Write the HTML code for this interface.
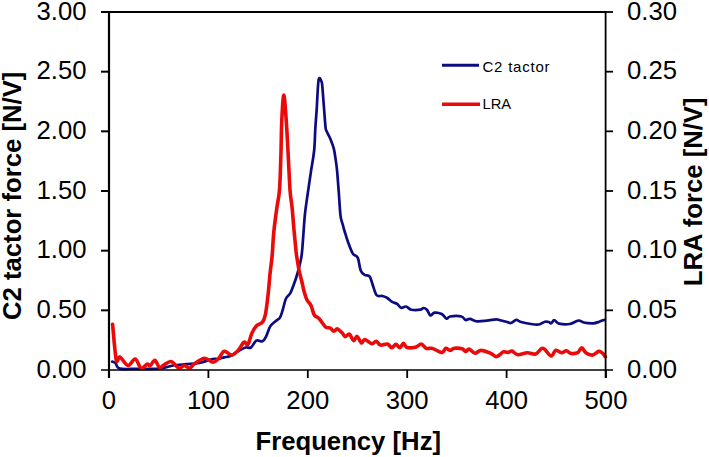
<!DOCTYPE html>
<html><head><meta charset="utf-8"><style>
html,body{margin:0;padding:0;background:#fff;width:709px;height:457px;overflow:hidden}
svg{display:block}
.tl{font-family:"Liberation Sans",sans-serif;font-size:25.7px;fill:#000}
.tt{font-family:"Liberation Sans",sans-serif;font-size:25.7px;font-weight:bold;fill:#000}
.lg{font-family:"Liberation Sans",sans-serif;font-size:15px;fill:#000}
</style></head><body>
<svg width="709" height="457" viewBox="0 0 709 457">
<rect width="709" height="457" fill="#fff"/>
<path d="M112.2,361.6C112.8,361.8 114.2,361.8 115.5,363.0C116.8,364.2 116.1,367.6 119.8,368.6C123.5,369.6 131.1,368.8 137.8,368.8C144.5,368.8 154.1,369.1 160.0,368.5C165.9,367.9 168.7,366.2 173.0,365.5C177.3,364.8 181.6,364.6 186.0,364.2C190.4,363.8 195.0,363.9 199.4,363.0C203.8,362.1 209.4,359.7 212.5,359.0C215.6,358.3 215.9,359.3 217.8,359.0C219.8,358.7 222.1,357.9 224.2,357.4C226.3,356.9 228.0,356.9 230.3,355.9C232.6,354.9 235.4,352.7 238.0,351.3C240.6,349.9 243.4,348.1 245.6,347.5C247.8,346.9 249.2,348.6 251.0,347.5C252.8,346.4 254.4,341.6 256.3,340.6C258.2,339.6 260.9,341.9 262.5,341.3C264.1,340.7 264.6,339.4 265.9,336.9C267.2,334.4 268.6,329.0 270.2,326.4C271.8,323.8 273.9,322.6 275.5,321.2C277.1,319.8 278.7,319.4 279.9,317.7C281.1,315.9 281.5,313.9 282.5,310.7C283.5,307.5 284.7,301.4 286.0,298.5C287.3,295.6 289.0,295.5 290.3,293.2C291.6,290.9 292.6,287.7 293.8,284.5C295.0,281.3 296.1,278.1 297.3,274.0C298.5,269.9 300.0,264.0 300.8,260.0C301.6,256.0 301.5,257.4 302.2,250.0C302.9,242.6 303.9,225.0 304.8,215.6C305.7,206.2 306.7,201.1 307.7,193.8C308.7,186.5 309.8,179.2 310.9,171.9C312.0,164.6 313.5,157.2 314.2,150.0C314.9,142.8 314.9,135.8 315.3,129.0C315.7,122.2 316.1,117.6 316.7,109.4C317.2,101.2 317.8,84.6 318.6,80.0C319.4,75.4 320.9,80.2 321.6,81.8C322.3,83.4 322.2,85.1 322.6,89.7C323.0,94.3 323.6,103.2 324.1,109.4C324.6,115.6 325.1,123.4 325.5,127.0C325.9,130.6 325.7,129.0 326.5,131.0C327.3,133.0 329.2,136.0 330.4,138.9C331.6,141.8 332.9,145.2 333.8,148.7C334.7,152.2 335.1,156.1 335.7,160.0C336.3,163.9 336.7,166.3 337.2,171.9C337.7,177.5 338.3,186.5 338.9,193.8C339.4,201.1 339.9,210.5 340.5,215.6C341.1,220.7 342.0,221.8 342.7,224.4C343.4,227.0 343.6,228.1 344.5,231.0C345.4,233.9 346.6,238.2 348.0,242.0C349.4,245.8 351.2,251.0 352.8,253.6C354.4,256.2 356.4,254.8 357.7,257.6C359.0,260.4 359.5,267.5 360.7,270.4C361.9,273.3 363.1,273.9 364.6,274.9C366.1,275.9 368.3,274.8 369.6,276.3C370.9,277.9 371.4,281.1 372.5,284.2C373.6,287.3 374.9,293.0 376.5,295.0C378.1,297.0 380.6,295.5 382.4,296.0C384.2,296.5 385.7,297.0 387.3,298.0C388.9,299.0 390.6,300.9 392.2,301.9C393.8,302.9 395.6,302.9 397.1,303.9C398.6,304.9 399.6,307.4 401.1,307.8C402.6,308.2 404.3,306.2 406.0,306.5C407.7,306.8 408.9,309.2 411.3,309.7C413.7,310.2 418.5,310.0 420.5,309.7C422.5,309.4 422.2,308.0 423.3,308.0C424.4,308.0 425.7,308.5 426.9,309.7C428.1,310.9 429.1,314.9 430.4,315.4C431.7,315.9 432.7,312.8 434.6,312.6C436.5,312.4 439.7,313.0 441.7,314.0C443.7,315.0 445.2,318.2 446.6,318.6C448.0,319.0 447.6,316.9 450.1,316.5C452.6,316.1 458.8,315.9 461.4,316.5C464.0,317.1 464.2,319.6 465.6,320.0C467.0,320.4 468.0,318.7 469.9,318.9C471.8,319.1 474.1,321.0 476.9,321.3C479.7,321.6 483.6,321.0 486.8,320.7C490.0,320.4 493.8,319.4 496.0,319.3C498.2,319.2 498.3,319.8 500.0,320.2C501.7,320.6 504.4,321.2 506.2,321.7C508.0,322.2 509.2,323.3 510.9,323.0C512.6,322.7 514.8,320.1 516.3,319.9C517.8,319.7 517.8,321.0 520.2,321.7C522.7,322.4 527.9,323.5 531.0,324.0C534.1,324.5 536.5,324.9 538.8,324.5C541.1,324.1 543.3,322.1 545.0,321.7C546.7,321.3 547.9,321.7 548.9,322.0C549.9,322.3 550.3,323.6 551.2,323.3C552.1,323.0 553.0,320.1 554.3,320.2C555.6,320.2 556.4,323.0 559.0,323.6C561.6,324.2 566.6,324.5 569.8,324.0C573.0,323.5 576.1,320.8 578.4,320.5C580.7,320.2 581.3,322.0 583.8,322.5C586.2,323.0 590.5,323.4 593.1,323.3C595.7,323.2 597.5,322.3 599.3,321.7C601.1,321.1 603.2,320.2 604.0,319.9" fill="none" stroke="#0c0c80" stroke-width="2.7" stroke-linejoin="round" stroke-linecap="round"/>
<path d="M112.6,324.2C113.2,330.1 115.0,354.1 116.2,359.6C117.5,365.1 118.1,356.0 120.1,357.0C122.1,358.0 125.5,365.2 128.0,365.5C130.5,365.8 133.0,358.6 135.2,359.0C137.4,359.4 139.1,367.3 141.1,368.2C143.1,369.1 145.5,364.6 147.0,364.2C148.5,363.8 149.0,366.1 150.3,365.5C151.6,364.9 153.4,360.0 154.9,360.3C156.4,360.6 158.0,366.7 159.5,367.5C161.0,368.3 162.1,365.9 164.0,364.9C165.9,363.9 168.7,361.1 171.2,361.6C173.7,362.2 176.8,367.6 179.0,368.2C181.2,368.8 182.6,365.5 184.3,365.5C186.1,365.5 187.8,368.5 189.5,368.2C191.2,367.9 192.3,365.2 194.8,363.6C197.3,362.0 201.5,358.5 204.6,358.3C207.7,358.1 210.8,362.3 213.2,362.3C215.6,362.3 217.0,360.0 218.8,358.2C220.6,356.4 222.0,351.8 224.2,351.3C226.4,350.8 229.5,355.2 231.8,355.1C234.1,355.0 235.9,352.7 238.0,350.5C240.1,348.3 242.4,343.1 244.1,342.1C245.8,341.1 246.6,345.8 247.9,344.4C249.2,343.0 250.3,336.8 251.7,333.7C253.1,330.6 254.5,327.9 256.3,326.0C258.1,324.1 261.0,324.2 262.5,322.2C264.0,320.2 264.6,318.4 265.5,314.0C266.4,309.6 267.2,302.2 268.0,295.5C268.8,288.8 269.3,280.8 270.0,274.0C270.7,267.2 271.6,262.0 272.2,255.0C272.8,248.0 273.0,239.9 273.8,232.0C274.6,224.1 275.9,214.5 276.9,207.5C277.8,200.5 278.8,198.8 279.5,190.0C280.2,181.2 280.5,166.7 280.9,155.0C281.3,143.3 281.3,130.0 281.8,120.0C282.3,110.0 283.1,95.0 283.8,95.0C284.5,95.0 285.5,110.0 286.2,120.0C286.9,130.0 287.6,143.3 288.2,155.0C288.8,166.7 289.4,181.2 290.0,190.0C290.6,198.8 291.4,200.8 292.1,207.5C292.8,214.2 293.3,222.6 294.0,230.0C294.7,237.4 295.6,246.9 296.1,251.9C296.7,256.9 296.8,256.9 297.3,260.0C297.8,263.1 298.4,267.0 299.1,270.5C299.8,274.0 300.8,277.4 301.7,281.0C302.6,284.6 303.4,289.1 304.3,292.3C305.2,295.5 305.9,297.8 307.0,300.0C308.1,302.2 309.8,303.0 311.0,305.5C312.2,308.0 313.0,312.8 314.3,315.0C315.6,317.2 317.1,316.5 319.0,318.5C320.9,320.5 323.5,325.2 325.4,326.8C327.3,328.4 328.9,327.4 330.3,328.2C331.7,328.9 332.7,331.2 333.9,331.3C335.1,331.4 336.0,328.6 337.4,328.9C338.8,329.2 341.0,331.8 342.3,333.1C343.6,334.4 343.9,336.5 345.1,336.7C346.3,336.9 348.0,333.5 349.4,334.1C350.8,334.8 352.3,340.2 353.6,340.6C354.9,341.0 355.8,336.0 357.1,336.4C358.4,336.8 360.1,342.5 361.4,343.0C362.7,343.5 363.1,339.4 364.9,339.5C366.6,339.6 370.0,343.4 371.9,343.7C373.8,344.0 374.8,341.0 376.2,341.2C377.6,341.4 378.5,344.6 380.4,345.1C382.3,345.6 385.5,343.6 387.4,344.0C389.3,344.4 390.3,347.6 391.7,347.7C393.1,347.8 394.5,344.4 395.9,344.4C397.3,344.4 398.7,347.8 400.0,347.6C401.3,347.4 402.3,343.3 403.5,343.3C404.7,343.3 405.0,347.0 407.1,347.6C409.2,348.2 413.9,347.5 416.2,346.9C418.5,346.3 419.5,343.8 421.2,344.0C422.9,344.2 424.4,347.6 426.1,348.3C427.9,349.0 429.9,348.0 431.7,348.3C433.5,348.6 434.9,349.7 436.7,350.4C438.5,351.1 440.8,352.9 442.3,352.5C443.8,352.1 444.5,348.7 445.8,348.3C447.1,347.9 448.7,350.4 450.1,350.4C451.5,350.4 452.3,348.6 454.3,348.3C456.3,348.0 460.2,348.2 462.1,348.7C464.0,349.2 464.4,351.4 465.6,351.5C466.8,351.6 467.6,348.7 469.1,349.0C470.6,349.3 472.8,353.0 474.8,353.2C476.8,353.4 478.5,350.4 481.1,350.4C483.7,350.4 487.8,352.1 490.3,353.2C492.8,354.2 494.3,356.5 495.9,356.7C497.5,356.9 498.8,355.4 500.0,354.6C501.2,353.8 501.8,352.3 503.1,351.9C504.4,351.5 506.5,352.5 508.0,352.4C509.5,352.3 510.4,350.7 512.0,351.1C513.6,351.5 515.1,354.4 517.7,354.7C520.3,355.0 524.4,352.8 527.4,352.7C530.4,352.6 533.0,354.7 535.6,354.0C538.2,353.3 540.3,348.0 542.9,348.3C545.5,348.6 548.9,355.7 551.0,356.0C553.1,356.3 554.0,350.9 555.8,350.3C557.5,349.8 559.7,352.6 561.5,352.7C563.3,352.8 564.8,350.7 566.4,350.8C568.0,350.9 569.3,353.2 571.2,353.5C573.1,353.8 575.9,353.6 577.7,352.7C579.5,351.8 580.4,347.8 581.8,347.8C583.1,347.8 584.0,351.5 585.8,352.7C587.5,353.9 590.1,355.3 592.3,355.1C594.5,354.9 597.0,351.7 598.8,351.4C600.6,351.1 601.8,352.6 602.9,353.5C604.0,354.4 604.9,356.2 605.3,356.8" fill="none" stroke="#ea0a0a" stroke-width="3.6" stroke-linejoin="round" stroke-linecap="round"/>
<line x1="101" y1="12" x2="606" y2="12" stroke="#000" stroke-width="2.2"/>
<line x1="109" y1="11" x2="109" y2="378" stroke="#000" stroke-width="2.2"/>
<line x1="605.6" y1="11" x2="605.6" y2="378" stroke="#000" stroke-width="1.8"/>
<line x1="101" y1="370" x2="613" y2="370" stroke="#000" stroke-width="1.4"/>
<line x1="101" y1="310.33" x2="110" y2="310.33" stroke="#000" stroke-width="2"/><line x1="605" y1="310.33" x2="613" y2="310.33" stroke="#000" stroke-width="1.8"/><line x1="101" y1="250.67" x2="110" y2="250.67" stroke="#000" stroke-width="2"/><line x1="605" y1="250.67" x2="613" y2="250.67" stroke="#000" stroke-width="1.8"/><line x1="101" y1="191.00" x2="110" y2="191.00" stroke="#000" stroke-width="2"/><line x1="605" y1="191.00" x2="613" y2="191.00" stroke="#000" stroke-width="1.8"/><line x1="101" y1="131.33" x2="110" y2="131.33" stroke="#000" stroke-width="2"/><line x1="605" y1="131.33" x2="613" y2="131.33" stroke="#000" stroke-width="1.8"/><line x1="101" y1="71.67" x2="110" y2="71.67" stroke="#000" stroke-width="2"/><line x1="605" y1="71.67" x2="613" y2="71.67" stroke="#000" stroke-width="1.8"/><line x1="101" y1="12.00" x2="110" y2="12.00" stroke="#000" stroke-width="2"/><line x1="605" y1="12.00" x2="613" y2="12.00" stroke="#000" stroke-width="1.8"/><line x1="109.00" y1="370" x2="109.00" y2="378" stroke="#000" stroke-width="1.8"/><line x1="208.40" y1="370" x2="208.40" y2="378" stroke="#000" stroke-width="1.8"/><line x1="307.80" y1="370" x2="307.80" y2="378" stroke="#000" stroke-width="1.8"/><line x1="407.20" y1="370" x2="407.20" y2="378" stroke="#000" stroke-width="1.8"/><line x1="506.60" y1="370" x2="506.60" y2="378" stroke="#000" stroke-width="1.8"/><line x1="606.00" y1="370" x2="606.00" y2="378" stroke="#000" stroke-width="1.8"/>
<text x="86.5" y="377.60" text-anchor="end" class="tl">0.00</text><text x="86.5" y="317.93" text-anchor="end" class="tl">0.50</text><text x="86.5" y="258.27" text-anchor="end" class="tl">1.00</text><text x="86.5" y="198.60" text-anchor="end" class="tl">1.50</text><text x="86.5" y="138.93" text-anchor="end" class="tl">2.00</text><text x="86.5" y="79.27" text-anchor="end" class="tl">2.50</text><text x="86.5" y="19.60" text-anchor="end" class="tl">3.00</text><text x="627" y="377.60" class="tl">0.00</text><text x="627" y="317.93" class="tl">0.05</text><text x="627" y="258.27" class="tl">0.10</text><text x="627" y="198.60" class="tl">0.15</text><text x="627" y="138.93" class="tl">0.20</text><text x="627" y="79.27" class="tl">0.25</text><text x="627" y="19.60" class="tl">0.30</text><text x="109.00" y="408.6" text-anchor="middle" class="tl">0</text><text x="208.40" y="408.6" text-anchor="middle" class="tl">100</text><text x="307.80" y="408.6" text-anchor="middle" class="tl">200</text><text x="407.20" y="408.6" text-anchor="middle" class="tl">300</text><text x="506.60" y="408.6" text-anchor="middle" class="tl">400</text><text x="606.00" y="408.6" text-anchor="middle" class="tl">500</text>
<text x="255.5" y="449.8" class="tt">Frequency [Hz]</text>
<text transform="translate(21,320) rotate(-90)" class="tt">C2 tactor force [N/V]</text>
<text transform="translate(702.2,286.3) rotate(-90)" class="tt">LRA force [N/V]</text>
<line x1="442" y1="65.3" x2="479" y2="65.3" stroke="#0c0c80" stroke-width="3"/>
<line x1="442" y1="104.2" x2="480" y2="104.2" stroke="#ea0a0a" stroke-width="3.6"/>
<text x="482.5" y="71.5" class="lg" textLength="67" lengthAdjust="spacing">C2 tactor</text>
<text x="482.5" y="108.8" class="lg" textLength="28.6" lengthAdjust="spacingAndGlyphs">LRA</text>
</svg>
</body></html>
